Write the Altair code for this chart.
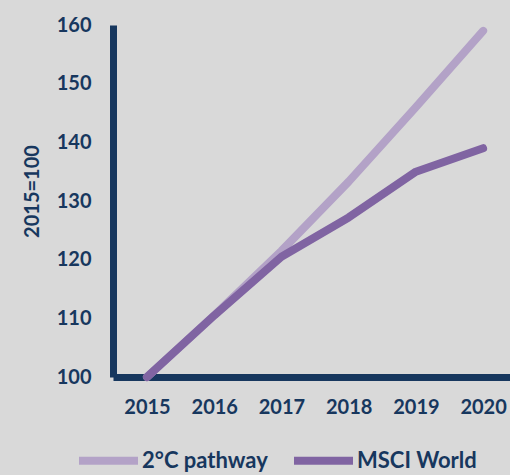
import altair as alt
import pandas as pd

years = [2015, 2016, 2017, 2018, 2019, 2020]
pathway = [100, 110.5, 121.5, 133.3, 146, 159]
msci = [100, 110.5, 120.5, 127.2, 135, 139]
series_names = ["2°C pathway", "MSCI World"]
series_colors = ["#b3a2c7", "#8064a2"]
y_ticks = [100, 110, 120, 130, 140, 150, 160]

rows = []
for y, v in zip(years, pathway):
    rows.append({"year": y, "value": v, "series": series_names[0], "order": 0})
for y, v in zip(years, msci):
    rows.append({"year": y, "value": v, "series": series_names[1], "order": 1})
df = pd.DataFrame(rows)

NAVY = "#17375e"
FONT = "Lato"

chart = alt.Chart(df).mark_line(strokeWidth=8, strokeCap="round", strokeJoin="round").encode(
    x=alt.X("year:Q",
            scale=alt.Scale(domain=[2014.494, 2020.4], nice=False, zero=False),
            axis=alt.Axis(values=years, format="d", title=None, ticks=False, grid=False,
                          domainColor=NAVY, domainWidth=7, labelColor=NAVY,
                          labelFont=FONT, labelFontWeight="bold", labelFontSize=20,
                          labelPadding=20, labelFlush=False, labelOverlap=False)),
    y=alt.Y("value:Q",
            scale=alt.Scale(domain=[100, 160], nice=False, zero=False),
            axis=alt.Axis(values=y_ticks, title="2015=100", ticks=False, grid=False,
                          domainColor=NAVY, domainWidth=7, labelColor=NAVY,
                          labelFont=FONT, labelFontWeight="bold", labelFontSize=20,
                          labelPadding=22, labelFlush=False, labelOverlap=False,
                          titleColor=NAVY, titleFont=FONT, titleFontWeight="bold",
                          titleFontSize=20, titleAngle=270, titleBaseline="middle",
                          titleAlign="center", titleX=-81, titleY=166)),
    color=alt.Color("series:N",
                    scale=alt.Scale(domain=series_names, range=series_colors),
                    legend=alt.Legend(title=None, orient="none", direction="horizontal",
                                      legendX=-38, legendY=402, padding=0,
                                      symbolType="stroke", symbolSize=3481,
                                      symbolStrokeWidth=8, labelOffset=0,
                                      columnPadding=10,
                                      labelFont=FONT, labelFontWeight="bold",
                                      labelFontSize=22, labelColor=NAVY)),
    order=alt.Order("order:Q"),
).properties(
    width=397, height=352,
    background="#d9d9d9",
    padding={"left": 113, "top": 25, "right": 0, "bottom": 98},
    autosize=alt.AutoSizeParams(type="none"),
).configure_view(stroke=None)

chart.save("out.html", embed_options={"renderer": "svg", "actions": False})
